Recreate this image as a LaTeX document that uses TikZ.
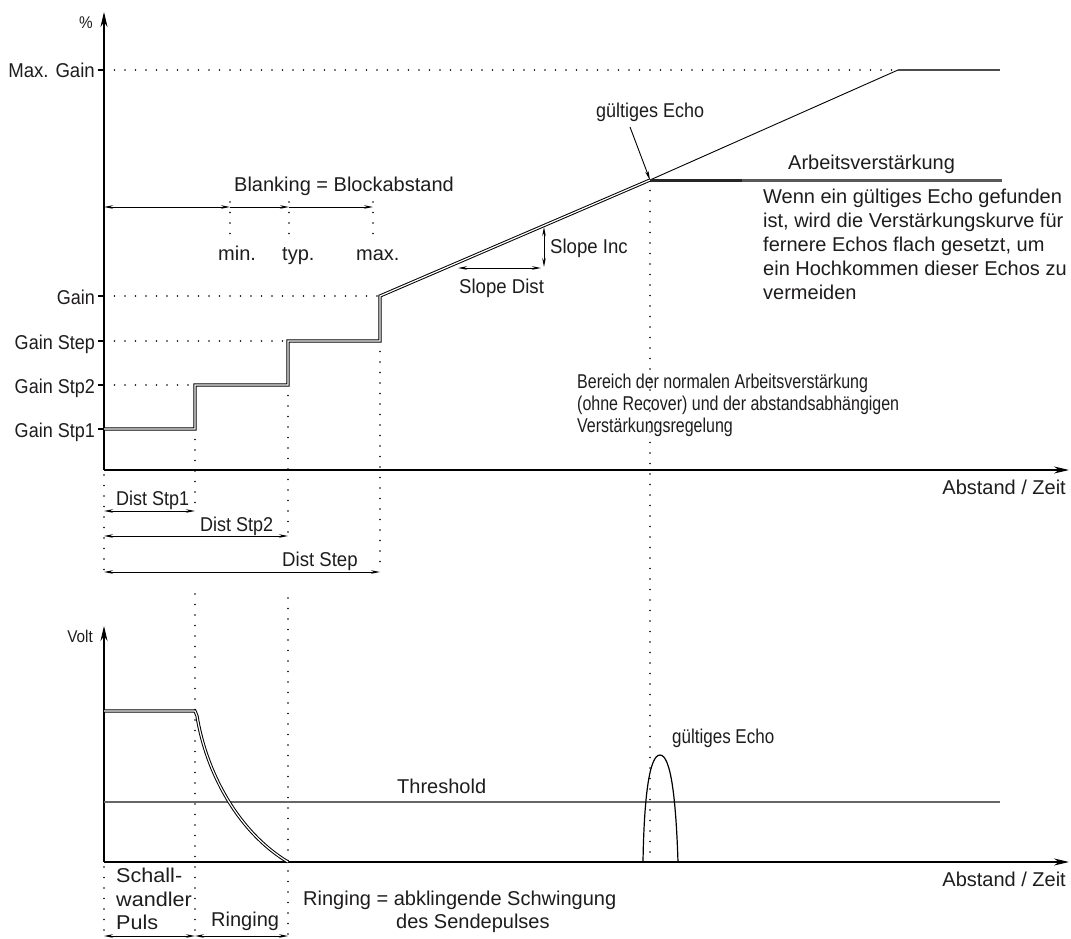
\documentclass[tikz,border=0pt]{standalone}
\usepackage{fontspec}
\setmainfont[FakeStretch=0.9]{Liberation Sans}
\newfontfamily\fntA[FakeStretch=0.8]{Liberation Sans}
\newfontfamily\fntB[FakeStretch=0.85]{Liberation Sans}
\newfontfamily\fntC[FakeStretch=0.9]{Liberation Sans}
\newfontfamily\fntD[FakeStretch=1.0]{Liberation Sans}
\newfontfamily\fntE[FakeStretch=1.08]{Liberation Sans}
\newfontfamily\fntF[FakeStretch=0.93]{Liberation Sans}
\usetikzlibrary{arrows.meta}
\definecolor{txt}{HTML}{1E1C1D}
\begin{document}
\begin{tikzpicture}[x=1pt,y=-1pt,
  lbl/.style={inner sep=0pt, font=\fontsize{20}{24}\selectfont\fntC, text=txt},
  sml/.style={inner sep=0pt, font=\fontsize{17}{20}\selectfont\fntC, text=txt},
  dots/.style={line width=1.6pt, dash pattern=on 0pt off 10.5pt, line cap=round},
  axis/.style={line width=1.4pt, -{Stealth[length=15pt,width=7pt]}},
  dimtip/.style={line width=0.9pt, {Stealth[length=9pt,width=3.5pt]}-{Stealth[length=9pt,width=3.5pt]}},
  onetip/.style={line width=0.9pt, -{Stealth[length=9pt,width=3.5pt]}},
  dbl/.style={double=white, double distance=1.2pt, line width=1pt, line join=miter},
  tick/.style={line width=1.2pt}
]
\useasboundingbox (0,0) rectangle (1071,939);

% ---------- upper chart ----------
\coordinate (O1) at (104,470);
\coordinate (Ytop) at (104,12);
\coordinate (Xend) at (1069,470);
\draw[axis] (O1) -- (Ytop);
\draw[axis] (O1) -- (Xend);
\node[sml, anchor=base east] (pct) at (93,29) {\%};
\node[lbl, anchor=base east, font=\fontsize{20}{24}\selectfont\fntD] (abz1) at (1066,494) {Abstand / Zeit};

% level ticks and labels
\draw[tick] (98,70) -- (104,70);
\node[lbl, anchor=base east, font=\fontsize{20}{24}\selectfont\fntF] (lmax) at (95,78) {Max. Gain};
\foreach \yy/\nm/\tx in {296/lgain/Gain, 341/lstep/Gain Step, 385/lstp2/Gain Stp2, 429/lstp1/Gain Stp1}{
  \draw[tick] (98,\yy) -- (104,\yy);
  \node[lbl, anchor=base east] (\nm) at (95,\yy+8) {\tx};
}

% key points
\coordinate (A0) at (104,429);
\coordinate (A1) at (195,429);
\coordinate (A2) at (195,385);
\coordinate (A3) at (288,385);
\coordinate (A4) at (288,341);
\coordinate (A5) at (380,341);
\coordinate (A6) at (380,296);
\coordinate (E)  at (650,180);
\coordinate (M)  at (898,70);
\coordinate (Mend) at (1000,70);
\coordinate (Wend) at (1002,180);

% dotted guide lines
\draw[dots] (104,70) -- (M);
\draw[dots] (104,296) -- (A6);
\draw[dots] (104,341) -- (A4);
\draw[dots] (104,385) -- (A2);
\draw[dots] (A1) -- (195,507);
\draw[dots] (A3) -- (288,534);
\draw[dots] (A5) -- (380,570);
\draw[dots] (104,475) -- (104,570);
\draw[dots] (E) -- (650,862);

% curves
\draw[line width=0.9pt] (E) -- (M);
\draw[line width=1.4pt, black!70] (M) -- (Mend);
\draw[line width=3pt, black!65] (E) -- (Wend);
\draw[line width=3pt, black!85] (E) -- (742,180);
\draw[dbl] (A0) -- (A1) -- (A2) -- (A3) -- (A4) -- (A5) -- (A6) -- (E);

% blanking
\coordinate (B0) at (104,207);
\coordinate (Bmin) at (230,207);
\coordinate (Btyp) at (289,207);
\coordinate (Bmax) at (373,207);
\draw[dimtip] (B0) -- (Bmin);
\draw[onetip] (Bmin) -- (Btyp);
\draw[onetip] (Btyp) -- (Bmax);
\draw[dots] (230,202) -- (230,236);
\draw[dots] (289,202) -- (289,236);
\draw[dots] (373,202) -- (373,236);
\node[lbl, anchor=base west, font=\fontsize{20}{24}\selectfont\fntD] (blk) at (234,191) {Blanking = Blockabstand};
\node[lbl, anchor=base west, font=\fontsize{20}{24}\selectfont\fntD] (tmin) at (218,260) {min.};
\node[lbl, anchor=base west, font=\fontsize{20}{24}\selectfont\fntD] (ttyp) at (282,260) {typ.};
\node[lbl, anchor=base west, font=\fontsize{20}{24}\selectfont\fntD] (tmax) at (356,260) {max.};

% slope inc / dist
\coordinate (SI1) at (544,227);
\coordinate (SI2) at (544,267);
\coordinate (SD1) at (458,268);
\coordinate (SD2) at (541,268);
\draw[dimtip] (SI1) -- (SI2);
\draw[dimtip] (SD1) -- (SD2);
\node[lbl, anchor=base west, font=\fontsize{20}{24}\selectfont\fntF] (sinc) at (550,253) {Slope Inc};
\node[lbl, anchor=base west, font=\fontsize{20}{24}\selectfont\fntF] (sdist) at (459,293) {Slope Dist};

% gültiges Echo (upper)
\node[lbl, anchor=base west] (ge1) at (596,118) {gültiges Echo};
\draw[onetip] (630,127) -- (E);

\node[lbl, anchor=base west, font=\fontsize{20}{24}\selectfont\fntD] (arb) at (788,169) {Arbeitsverstärkung};
\node[lbl, anchor=north west, align=left, font=\fontsize{20}{24}\selectfont\fntD] (wenn) at (763,189)
  {Wenn ein gültiges Echo gefunden\\ist, wird die Verstärkungskurve für\\fernere Echos flach gesetzt, um\\ein Hochkommen dieser Echos zu\\vermeiden};
\node[lbl, anchor=north west, align=left, font=\fontsize{20}{22}\selectfont\fntA] (ber) at (577,374)
  {Bereich der normalen Arbeitsverstärkung\\(ohne Recover) und der abstandsabhängigen\\Verstärkungsregelung};

% distance arrows
\draw[dimtip] (104,511) -- (195,511);
\draw[dimtip] (104,536) -- (288,536);
\draw[dimtip] (104,572) -- (380,572);
\node[lbl, anchor=base west] (ds1) at (116,505) {Dist Stp1};
\node[lbl, anchor=base west] (ds2) at (200,531) {Dist Stp2};
\node[lbl, anchor=base west, font=\fontsize{20}{24}\selectfont\fntF] (dst) at (282,566) {Dist Step};

% ---------- lower chart ----------
\coordinate (O2) at (104,862);
\coordinate (Ytop2) at (104,626);
\coordinate (Xend2) at (1069,862);
\draw[dots] (195,594) -- (195,939);
\draw[dots] (288,598) -- (288,939);
\draw[dots] (104,867) -- (104,939);
\draw[axis] (O2) -- (Ytop2);
\draw[axis] (O2) -- (Xend2);
\node[sml, anchor=base east] (volt) at (93,642) {Volt};
\node[lbl, anchor=base east, font=\fontsize{20}{24}\selectfont\fntD] (abz2) at (1066,886) {Abstand / Zeit};

% threshold
\draw[line width=1.4pt, black!60] (104,802) -- (1000,802);
\node[lbl, anchor=base west, font=\fontsize{20}{24}\selectfont\fntD] (thr) at (397,793) {Threshold};

% pulse
\coordinate (P0) at (104,711);
\coordinate (P1) at (195,711);
\coordinate (P2) at (288,862);
\draw[dbl] (P0) -- (P1) -- (197,716) .. controls (206,772) and (238,832) .. (P2);

% echo
\coordinate (Q0) at (643,862);
\coordinate (Qp) at (660,755);
\coordinate (Q1) at (678,862);
\draw[line width=1.2pt] (Q0) .. controls (644,800) and (649,755) .. (Qp) .. controls (671,755) and (676,800) .. (Q1);
\node[lbl, anchor=base west, font=\fontsize{20}{24}\selectfont\fntB] (ge2) at (672,743) {gültiges Echo};

% bottom labels
\node[lbl, anchor=north west, align=left, font=\fontsize{20}{23.5}\selectfont\fntE] (sw) at (116,868) {Schall-\\wandler\\Puls};
\node[lbl, anchor=base west, font=\fontsize{20}{24}\selectfont\fntD] (rng) at (211,926) {Ringing};
\draw[dimtip] (104,936) -- (195,936);
\draw[dimtip] (195,936) -- (288,936);
\node[lbl, anchor=base west, font=\fontsize{20}{24}\selectfont\fntD] (rdef) at (303,905) {Ringing = abklingende Schwingung};
\node[lbl, anchor=base west, font=\fontsize{20}{24}\selectfont\fntD] (rdef2) at (396,928) {des Sendepulses};
\end{tikzpicture}
\end{document}
